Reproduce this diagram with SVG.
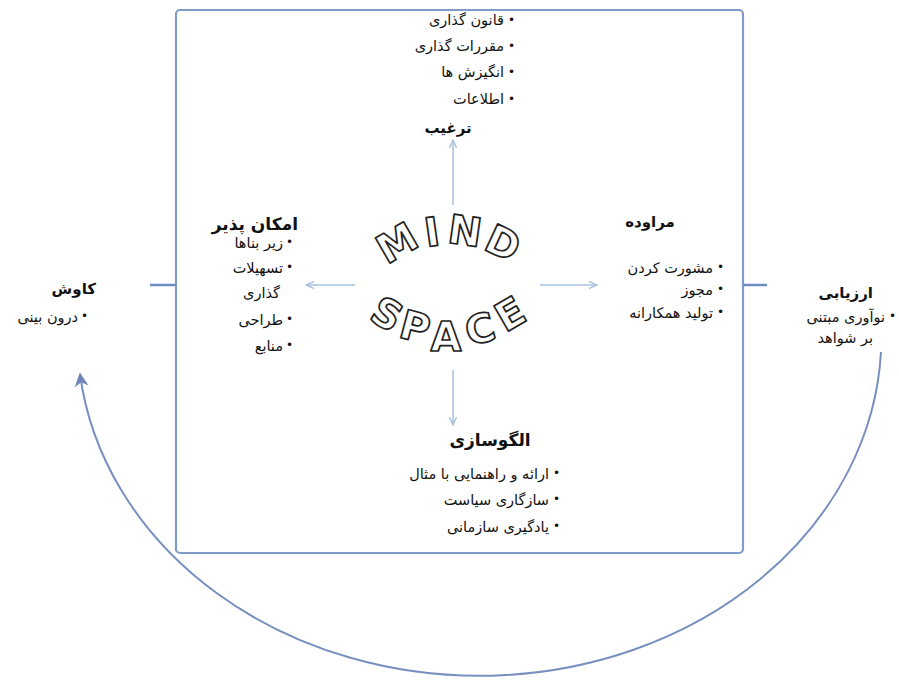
<svg xmlns="http://www.w3.org/2000/svg" width="899" height="699" viewBox="0 0 899 699">
<style>
.t{font-family:"DejaVu Sans",sans-serif;font-size:14.5px;fill:#111}
.h{font-family:"DejaVu Sans",sans-serif;font-size:15px;font-weight:bold;fill:#111}
.b{font-family:"DejaVu Sans",sans-serif;font-size:12px;fill:#111}
.ml{font-family:"DejaVu Sans",sans-serif;font-size:40px;font-weight:bold;fill:#fff;stroke:#222;stroke-width:1.7;stroke-linejoin:round}
.frame{fill:#fff;stroke:#7f9bc8;stroke-width:2.2}
.con{fill:none;stroke:#a8c0de;stroke-width:1.5}
.arc{fill:none;stroke:#7890c0;stroke-width:2}
</style>
<defs>
<marker id="ah" viewBox="0 0 10 10" refX="9" refY="5" markerWidth="6" markerHeight="6" orient="auto"><path d="M0,1 L9,5 L0,9" fill="none" stroke="#a8c0de" stroke-width="1.5"/></marker>
<marker id="ah2" viewBox="0 0 10 10" refX="9" refY="5" markerWidth="7" markerHeight="7" orient="auto"><path d="M0,0 L10,5 L0,10 L3,5 z" fill="#6f87b8"/></marker>
</defs>
<rect width="899" height="699" fill="#fff"/>
<g id="frame">
<rect class="frame" x="176" y="10" width="567" height="543" rx="4"/>
<line x1="150" y1="285" x2="176" y2="285" stroke="#6f8cc0" stroke-width="2.5"/>
<line x1="743" y1="285" x2="767" y2="285" stroke="#6f8cc0" stroke-width="2.5"/>
</g>
<g id="connectors">
<line class="con" x1="453" y1="205" x2="453" y2="140" marker-end="url(#ah)"/>
<line class="con" x1="355" y1="285" x2="306" y2="285" marker-end="url(#ah)"/>
<line class="con" x1="540" y1="285" x2="597" y2="285" marker-end="url(#ah)"/>
<line class="con" x1="453" y1="370" x2="453" y2="425" marker-end="url(#ah)"/>
<path class="arc" d="M 881 352 A 402 340 0 0 1 80 374" marker-end="url(#ah2)"/>
</g>
<g id="mindspace">
<text class="ml" text-anchor="middle" dominant-baseline="central" transform="translate(397,243) rotate(-30)">M</text>
<text class="ml" text-anchor="middle" dominant-baseline="central" transform="translate(432,232) rotate(-8)">I</text>
<text class="ml" text-anchor="middle" dominant-baseline="central" transform="translate(465,231) rotate(8)">N</text>
<text class="ml" text-anchor="middle" dominant-baseline="central" transform="translate(503,243) rotate(25)">D</text>
<text class="ml" text-anchor="middle" dominant-baseline="central" transform="translate(387,314) rotate(30)">S</text>
<text class="ml" text-anchor="middle" dominant-baseline="central" transform="translate(415,327) rotate(15)">P</text>
<text class="ml" text-anchor="middle" dominant-baseline="central" transform="translate(446,337) rotate(0)">A</text>
<text class="ml" text-anchor="middle" dominant-baseline="central" transform="translate(480,329) rotate(-15)">C</text>
<text class="ml" text-anchor="middle" dominant-baseline="central" transform="translate(510,314) rotate(-30)">E</text>
</g>
<g id="targhib">
<text class="b" x="508" y="24">•</text>
<text class="t" x="504" y="25" text-anchor="end">قانون گذاری</text>
<text class="b" x="508" y="50">•</text>
<text class="t" x="504" y="51" text-anchor="end">مقررات گذاری</text>
<text class="b" x="508" y="76">•</text>
<text class="t" x="504" y="77" text-anchor="end">انگیزش ها</text>
<text class="b" x="508" y="103">•</text>
<text class="t" x="504" y="104" text-anchor="end">اطلاعات</text>
<text class="h" x="448" y="133" text-anchor="middle">ترغیب</text>
</g>
<g id="emkanpazir">
<text class="h" x="298" y="230" text-anchor="end" style="font-size:17px">امکان پذیر</text>
<text class="b" x="286" y="246">•</text>
<text class="t" x="283" y="248" text-anchor="end">زیر بناها</text>
<text class="b" x="286" y="271">•</text>
<text class="t" x="283" y="273" text-anchor="end">تسهیلات</text>
<text class="t" x="280" y="298" text-anchor="end">گذاری</text>
<text class="b" x="286" y="323">•</text>
<text class="t" x="283" y="325" text-anchor="end">طراحی</text>
<text class="b" x="286" y="349">•</text>
<text class="t" x="283" y="351" text-anchor="end">منابع</text>
</g>
<g id="moravede">
<text class="h" x="650" y="227" text-anchor="middle">مراوده</text>
<text class="b" x="717" y="271">•</text>
<text class="t" x="713" y="273" text-anchor="end">مشورت کردن</text>
<text class="b" x="717" y="293">•</text>
<text class="t" x="713" y="295" text-anchor="end">مجوز</text>
<text class="b" x="717" y="316">•</text>
<text class="t" x="713" y="318" text-anchor="end">تولید همکارانه</text>
</g>
<g id="kavosh">
<text class="h" x="96" y="294" text-anchor="end">کاوش</text>
<text class="b" x="81" y="320">•</text>
<text class="t" x="78" y="322" text-anchor="end">درون بینی</text>
</g>
<g id="arzyabi">
<text class="h" x="873" y="298" text-anchor="end">ارزیابی</text>
<text class="b" x="889" y="320">•</text>
<text class="t" x="885" y="322" text-anchor="end">نوآوری مبتنی</text>
<text class="t" x="873" y="343" text-anchor="end">بر شواهد</text>
</g>
<g id="olgosazi">
<text class="h" x="490" y="446" text-anchor="middle" style="font-size:17px">الگوسازی</text>
<text class="b" x="553" y="477">•</text>
<text class="t" x="549" y="479" text-anchor="end">ارائه و راهنمایی با مثال</text>
<text class="b" x="553" y="503">•</text>
<text class="t" x="549" y="505" text-anchor="end">سازگاری سیاست</text>
<text class="b" x="553" y="530">•</text>
<text class="t" x="549" y="532" text-anchor="end">یادگیری سازمانی</text>
</g>
</svg>
